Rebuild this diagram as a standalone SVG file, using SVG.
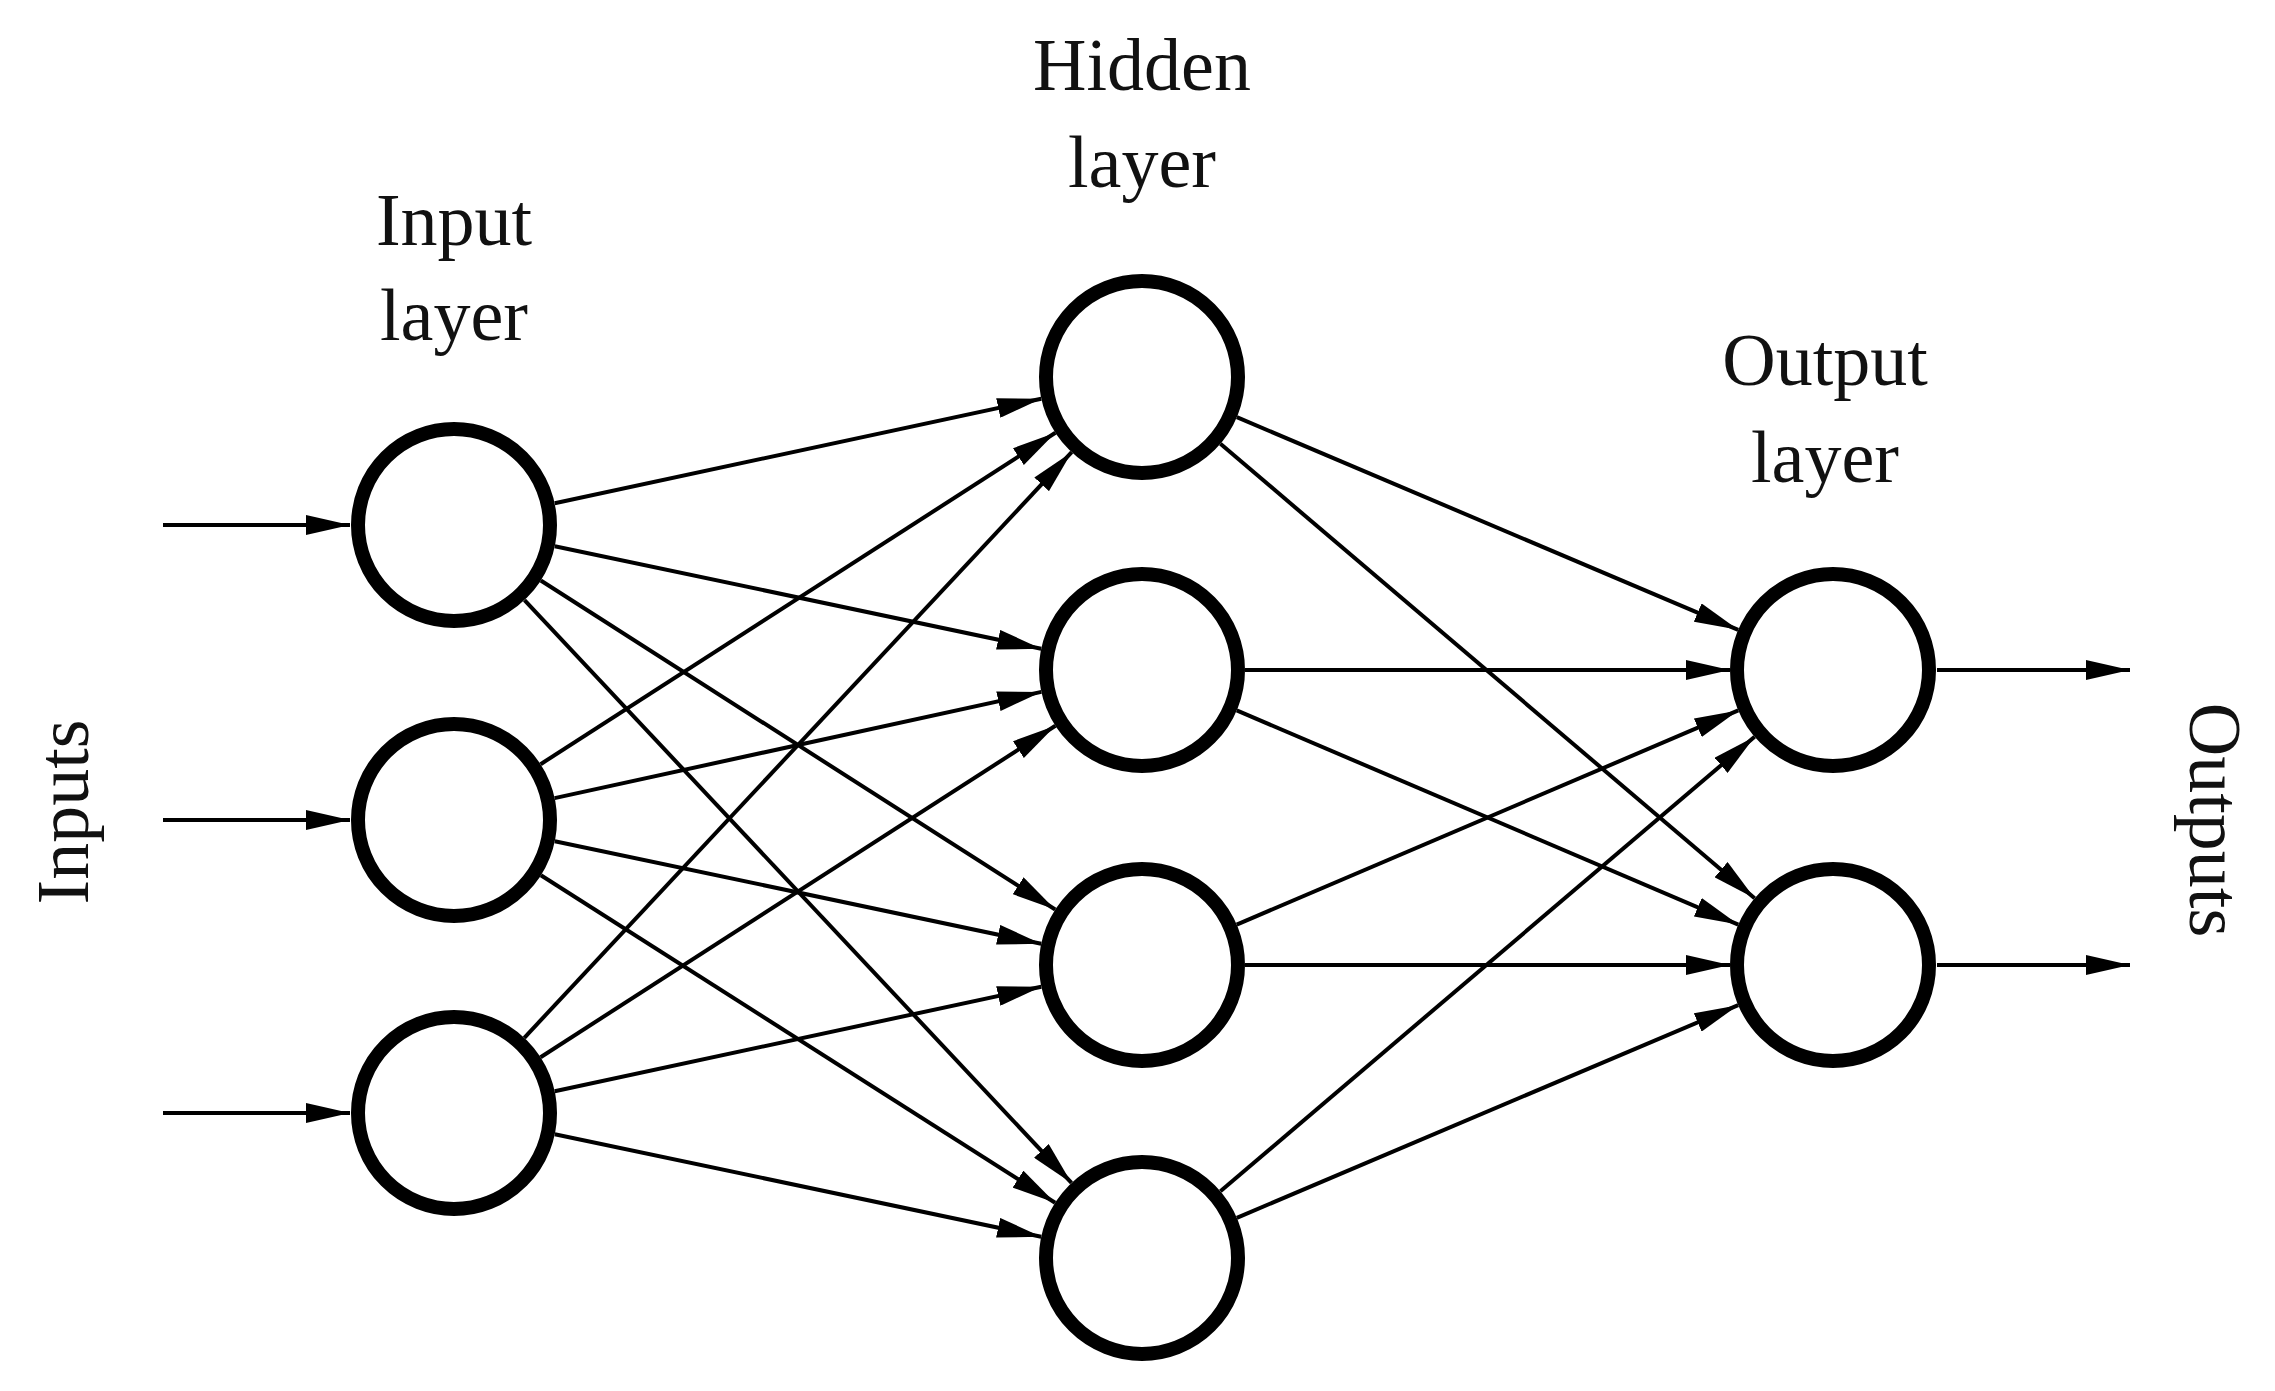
<svg xmlns="http://www.w3.org/2000/svg" width="2275" height="1391" viewBox="0 0 2275 1391">
<style>
.n{fill:#fff;stroke:#000;stroke-width:14}
.e{stroke:#000;stroke-width:4;fill:none;marker-end:url(#a)}
text{font-family:"Liberation Serif",serif;font-size:74px;fill:#111;text-anchor:middle}
</style>
<defs><marker id="a" markerUnits="userSpaceOnUse" viewBox="0 0 44 20" markerWidth="44" markerHeight="20" refX="44" refY="10" orient="auto"><path d="M0,0 L44,10 L0,20 z" fill="#000"/></marker></defs>
<rect width="2275" height="1391" fill="#fff"/>
<g id="connectors">
<line class="e" x1="163" y1="525" x2="350" y2="525"/>
<line class="e" x1="163" y1="820" x2="350" y2="820"/>
<line class="e" x1="163" y1="1113" x2="350" y2="1113"/>
<line class="e" x1="1937" y1="670" x2="2130" y2="670"/>
<line class="e" x1="1937" y1="965" x2="2130" y2="965"/>
<line class="e" x1="554.7" y1="503.3" x2="1041.3" y2="398.7"/>
<line class="e" x1="554.8" y1="546.2" x2="1041.2" y2="648.8"/>
<line class="e" x1="540.8" y1="580.5" x2="1055.2" y2="909.5"/>
<line class="e" x1="524.5" y1="600.1" x2="1071.5" y2="1182.9"/>
<line class="e" x1="540.6" y1="764.2" x2="1055.4" y2="432.8"/>
<line class="e" x1="554.6" y1="798.1" x2="1041.4" y2="691.9"/>
<line class="e" x1="554.8" y1="841.2" x2="1041.2" y2="943.8"/>
<line class="e" x1="540.9" y1="875.3" x2="1055.1" y2="1202.7"/>
<line class="e" x1="524.3" y1="1037.8" x2="1071.7" y2="452.2"/>
<line class="e" x1="540.6" y1="1057.2" x2="1055.4" y2="725.8"/>
<line class="e" x1="554.7" y1="1091.3" x2="1041.3" y2="986.7"/>
<line class="e" x1="554.8" y1="1134.2" x2="1041.2" y2="1236.8"/>
<line class="e" x1="1236.8" y1="417.2" x2="1738.2" y2="629.8"/>
<line class="e" x1="1220.4" y1="443.8" x2="1754.6" y2="898.2"/>
<line class="e" x1="1245" y1="670" x2="1730" y2="670"/>
<line class="e" x1="1236.7" y1="710.4" x2="1738.3" y2="924.6"/>
<line class="e" x1="1236.7" y1="924.6" x2="1738.3" y2="710.4"/>
<line class="e" x1="1245" y1="965" x2="1730" y2="965"/>
<line class="e" x1="1220.4" y1="1191.2" x2="1754.6" y2="736.8"/>
<line class="e" x1="1236.8" y1="1217.8" x2="1738.2" y2="1005.2"/>
</g>
<g id="i1"><circle class="n" cx="454" cy="525" r="96"/></g>
<g id="i2"><circle class="n" cx="454" cy="820" r="96"/></g>
<g id="i3"><circle class="n" cx="454" cy="1113" r="96"/></g>
<g id="h1"><circle class="n" cx="1142" cy="377" r="96"/></g>
<g id="h2"><circle class="n" cx="1142" cy="670" r="96"/></g>
<g id="h3"><circle class="n" cx="1142" cy="965" r="96"/></g>
<g id="h4"><circle class="n" cx="1142" cy="1258" r="96"/></g>
<g id="o1"><circle class="n" cx="1833" cy="670" r="96"/></g>
<g id="o2"><circle class="n" cx="1833" cy="965" r="96"/></g>
<g id="labels">
<text x="454" y="245">Input</text><text x="454" y="340">layer</text>
<text x="1142" y="90">Hidden</text><text x="1142" y="187">layer</text>
<text x="1825" y="385">Output</text><text x="1825" y="482">layer</text>
<text transform="translate(88,812) rotate(-90)">Inputs</text>
<text transform="translate(2190,820) rotate(90)">Outputs</text>
</g>
</svg>
